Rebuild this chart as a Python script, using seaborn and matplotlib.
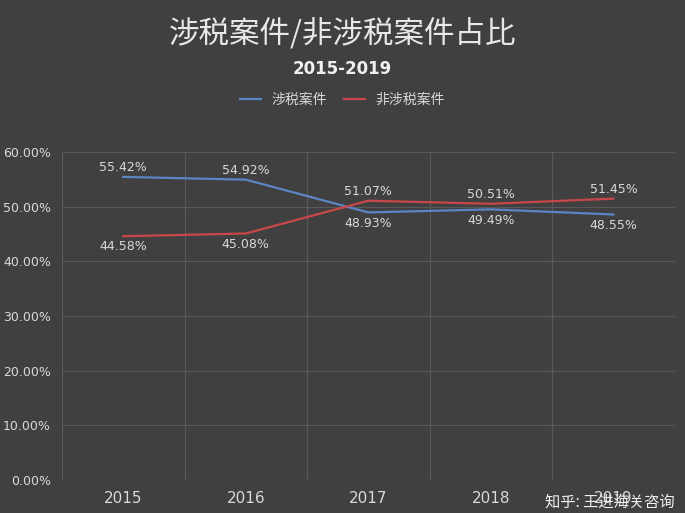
import matplotlib
matplotlib.use("Agg")
import matplotlib.pyplot as plt
from matplotlib import font_manager as fm
import seaborn as sns
import pandas as pd
import numpy as np

years = ["2015", "2016", "2017", "2018", "2019"]
tax = [55.42, 54.92, 48.93, 49.49, 48.55]
nontax = [44.58, 45.08, 51.07, 50.51, 51.45]
series_names = ["涉税案件", "非涉税案件"]

names = sorted({f.name for f in fm.fontManager.ttflist if "CJK" in f.name and "Sans" in f.name})
cjk = next((n for n in names if "SC" in n), names[0] if names else "Noto Sans CJK SC")
plt.rcParams["font.family"] = [cjk, "DejaVu Sans"]
bg = "#404040"
fig = plt.figure(figsize=(6.85, 5.13), dpi=100, facecolor=bg)
ax = fig.add_axes([0.0905, 0.064, 0.8945, 0.64], facecolor=bg)

df = pd.DataFrame({"x": list(range(5)) * 2, "v": tax + nontax,
                   "s": [series_names[0]] * 5 + [series_names[1]] * 5})
colors = {series_names[0]: "#5b86c4", series_names[1]: "#c9474a"}
sns.lineplot(data=df, x="x", y="v", hue="s", palette=colors, ax=ax, linewidth=1.6, legend=False)

for i, (a, b) in enumerate(zip(tax, nontax)):
    for v, up in ((a, a > b), (b, b > a)):
        ax.annotate(f"{v:.2f}%", (i, v), xytext=(0, 2 if up else -3), textcoords="offset points",
                    ha="center", va="bottom" if up else "top", color="#d9d9d9", fontsize=9,
                    fontfamily="DejaVu Sans")

ax.set_xlim(-0.5, 4.5)
ax.set_ylim(0, 60)
ax.set_yticks(np.arange(0, 61, 10))
ax.set_yticklabels([f"{v:.2f}%" for v in range(0, 61, 10)], color="#d9d9d9", fontsize=9, fontfamily="DejaVu Sans")
ax.set_xticks(range(5))
ax.set_xticklabels(years, color="#d9d9d9", fontsize=11, fontfamily="DejaVu Sans")
ax.set_xticks(np.arange(-0.5, 4.6, 1), minor=True)
ax.grid(True, axis="y", color="#595959", linewidth=0.8)
ax.grid(True, axis="x", which="minor", color="#595959", linewidth=0.8)
ax.tick_params(length=0, which="both", pad=8)
ax.set_xlabel(""); ax.set_ylabel("")
for s in ax.spines.values():
    s.set_visible(False)

fig.text(0.5, 0.935, "涉税案件/非涉税案件占比", ha="center", va="center", color="#e8e8e8", fontsize=22)
fig.text(0.5, 0.865, "2015-2019", ha="center", va="center", color="#f0f0f0", fontsize=12, fontweight="bold",
         fontfamily="DejaVu Sans")
from matplotlib.lines import Line2D
handles = [Line2D([], [], color=colors[n], lw=1.6) for n in series_names]
fig.legend(handles, series_names, loc="center", bbox_to_anchor=(0.5, 0.805), ncol=2, frameon=False,
           labelcolor="#d9d9d9", fontsize=10, handlelength=1.5, columnspacing=1.2)
fig.text(0.985, 0.005, "知乎: 王进海关咨询", color="#f0f0f0", fontsize=11, ha="right", va="bottom")
fig.savefig("out.png", dpi=100, facecolor=bg)
